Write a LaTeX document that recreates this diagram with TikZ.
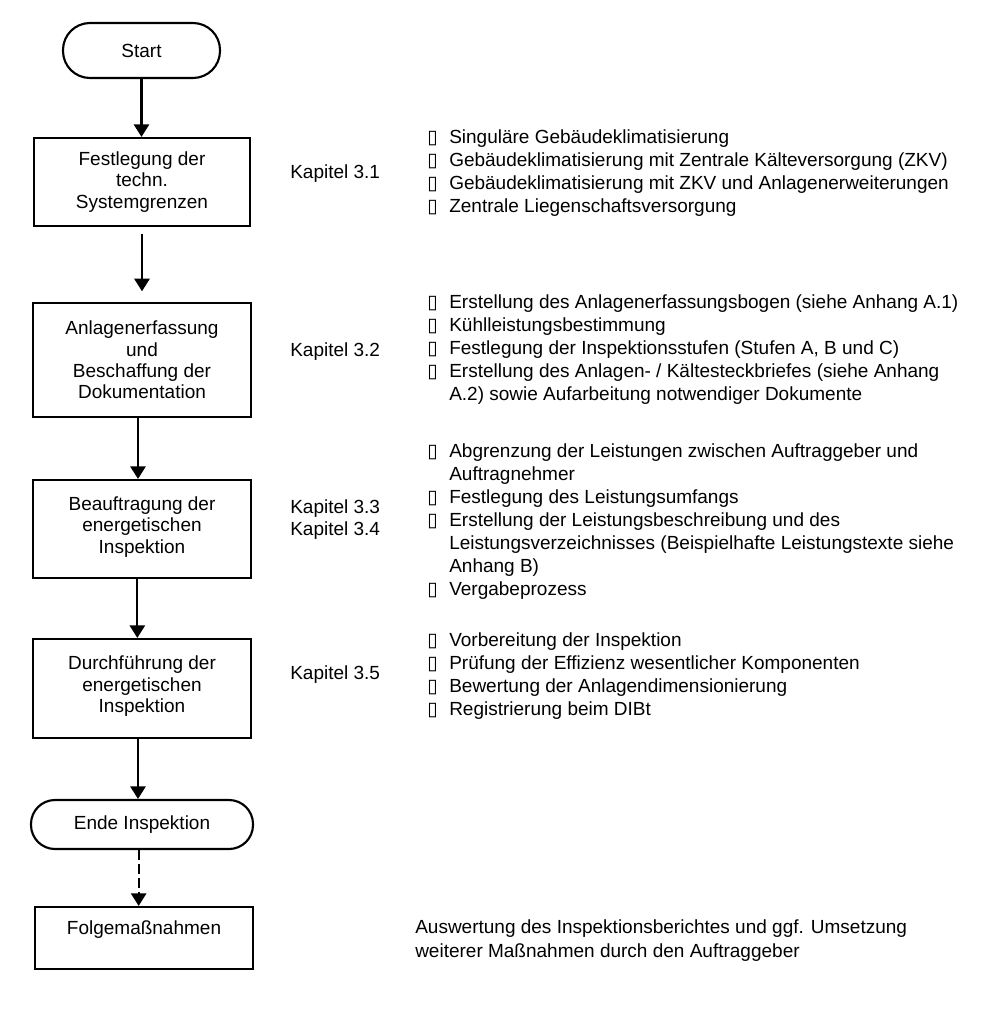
\documentclass[tikz,border=0pt]{standalone}
\usepackage{fontspec}
\setmainfont{Liberation Sans}
\newfontfamily\dejavu{DejaVu Sans}
\usetikzlibrary{arrows.meta}
\newdimen\pxu \pxu=0.75pt
\newcommand\bul{\makebox[22\pxu][l]{\dejavu ▯}}
\newcommand\bulsp{\hspace*{22\pxu}}
\tikzset{
  basefont/.style={font=\fontsize{14.25pt}{16.1pt}\selectfont},
  listfont/.style={font=\fontsize{14.25pt}{17.25pt}\selectfont},
  stepbox/.style={draw, line width=1.6pt, inner sep=0pt, align=center, minimum width=218\pxu, basefont},
  terminal/.style={draw, line width=1.6pt, inner sep=0pt, align=center, basefont},
  arr/.style={line width=1.6pt, -{Triangle[width=11.5pt,length=9.5pt]}},
  kap/.style={anchor=base west, inner sep=0pt, align=left, font=\fontsize{14.25pt}{16.5pt}\selectfont},
  lst/.style={anchor=base west, inner sep=0pt, align=left, listfont},
}
\begin{document}
\begin{tikzpicture}[x=0.75pt,y=-0.75pt]
\useasboundingbox[fill=white] (0,0) rectangle (1000,1010);

% flow nodes
\node[terminal, minimum width=157\pxu, minimum height=55\pxu, rounded corners=27\pxu] (start) at (141.5,50.5) {Start};
\node[stepbox, minimum width=216\pxu, minimum height=88\pxu] (b1) at (142,182) {Festlegung der\\techn.\\Systemgrenzen};
\node[stepbox, minimum height=114\pxu] (b2) at (142,360) {Anlagenerfassung\\und\\Beschaffung der\\Dokumentation};
\node[stepbox, minimum height=98\pxu] (b3) at (142,529) {Beauftragung der\\energetischen\\Inspektion\\[-10pt]\mbox{}};
\node[stepbox, minimum height=99\pxu] (b4) at (142,688.5) {Durchführung der\\energetischen\\Inspektion\\[-10pt]\mbox{}};
\node[terminal, minimum width=222\pxu, minimum height=49\pxu, rounded corners=24\pxu] (ende) at (142,824.5) {Ende Inspektion};
\node[stepbox, minimum height=62\pxu] (folge) at (144,938) {Folgemaßnahmen\\\mbox{}};

% connectors
\draw[arr] (start.south) -- (start.south |- b1.north);
\draw[arr, shorten <=5pt, shorten >=8pt] (b1.south) -- (b1.south |- b2.north);
\draw[arr] ([xshift=-3pt]b2.south) -- ([xshift=-3pt]b2.south |- b3.north);
\draw[arr] ([xshift=-3.5pt]b3.south) -- ([xshift=-3.5pt]b3.south |- b4.north);
\draw[arr] ([xshift=-3pt]b4.south) -- ([xshift=-3pt]b4.south |- ende.north);
\draw[arr, dash pattern=on 7.5pt off 3pt] ([xshift=-2.5pt]ende.south) -- ([xshift=-2.5pt]ende.south |- folge.north);

% chapter labels (anchor = baseline of last line)
\node[kap] (k1) at (290,178) {Kapitel 3.1};
\node[kap] (k2) at (290,356) {Kapitel 3.2};
\node[kap] (k3) at (290,535) {Kapitel 3.3\\Kapitel 3.4};
\node[kap] (k5) at (290,679) {Kapitel 3.5};

% lists (anchor = baseline of last line)
\node[lst] (l1) at (427,212) {\bul Singuläre Gebäudeklimatisierung\\
\bul Gebäudeklimatisierung mit Zentrale Kälteversorgung (ZKV)\\
\bul Gebäudeklimatisierung mit ZKV und Anlagenerweiterungen\\
\bul Zentrale Liegenschaftsversorgung};

\node[lst] (l2) at (427,400) {\bul Erstellung des Anlagenerfassungsbogen (siehe Anhang A.1)\\
\bul Kühlleistungsbestimmung\\
\bul Festlegung der Inspektionsstufen (Stufen A, B und C)\\
\bul Erstellung des Anlagen- / Kältesteckbriefes (siehe Anhang\\
\bulsp A.2) sowie Aufarbeitung notwendiger Dokumente};

\node[lst] (l3) at (427,595) {\bul Abgrenzung der Leistungen zwischen Auftraggeber und\\
\bulsp Auftragnehmer\\
\bul Festlegung des Leistungsumfangs\\
\bul Erstellung der Leistungsbeschreibung und des\\
\bulsp Leistungsverzeichnisses (Beispielhafte Leistungstexte siehe\\
\bulsp Anhang B)\\
\bul Vergabeprozess};

\node[lst] (l4) at (427,715) {\bul Vorbereitung der Inspektion\\
\bul Prüfung der Effizienz wesentlicher Komponenten\\
\bul Bewertung der Anlagendimensionierung\\
\bul Registrierung beim DIBt};

\node[lst, font=\fontsize{14.25pt}{18pt}\selectfont] (l5) at (415,957) {Auswertung des Inspektionsberichtes und ggf. Umsetzung\\
weiterer Maßnahmen durch den Auftraggeber};
\end{tikzpicture}
\end{document}
